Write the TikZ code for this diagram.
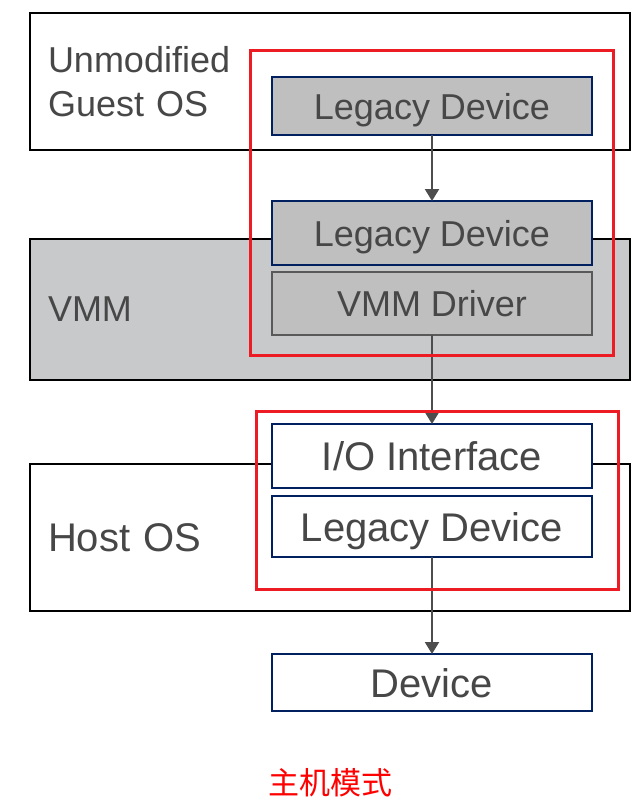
\documentclass[tikz,border=0pt]{standalone}
\usepackage{fontspec}
\setmainfont{Liberation Sans}
\newfontfamily\cjk{Noto Sans CJK SC}
\usepackage{tikz}
\usetikzlibrary{arrows.meta, positioning}

\definecolor{txtgray}{HTML}{474747}
\definecolor{devblue}{HTML}{002060}
\definecolor{devgray}{HTML}{BFBFBF}
\definecolor{vmmgray}{HTML}{C8C9CB}
\definecolor{drvline}{HTML}{595959}
\definecolor{flowgray}{HTML}{4D4D4D}
\definecolor{markred}{HTML}{ED1C24}

\begin{document}
\begin{tikzpicture} [
    x=1pt, y=-1pt,
    layer/.style={draw=black, line width=2.2pt, anchor=north west, minimum width=600pt,
      text width=564pt, inner xsep=18pt, inner ysep=0pt, outer sep=0pt, align=left,
      text=txtgray, font=\fontsize{36}{44}\selectfont},
    device/.style={draw=devblue, line width=2.2pt, fill=white, minimum width=320pt,
      inner sep=0pt, outer sep=0pt, text=txtgray,
      font=\fontsize{40}{44}\selectfont, text height=36pt, text depth=7pt},
    small device/.style={device, fill=devgray,
      font=\fontsize{36}{40}\selectfont, text height=32.5pt, text depth=6.5pt},
    flow/.style={draw=flowgray, line width=2.2pt, -{Triangle[width=14pt, length=12pt]}},
    mark box/.style={draw=markred, line width=3pt}
  ]

  \useasboundingbox (0,0) rectangle (643,807);

  % Layers
  \node (GUEST) [layer, minimum height=137pt] at (30,13) {Unmodified\\Guest OS};
  \node (VMM) [layer, fill=vmmgray, minimum height=141pt] at (30,239) {VMM};
  \node (HOST) [layer, minimum height=147pt, font=\fontsize{40}{44}\selectfont] at (30,464) {Host OS};

  % Devices, top to bottom
  \node (LEGACYG) [small device, minimum height=58pt] at (432,106) {Legacy Device};
  \node (LEGACYV) [small device, minimum height=64pt, below=66pt of LEGACYG] {Legacy Device};
  \node (DRIVER) [small device, draw=drvline, minimum height=63pt, below=7pt of LEGACYV] {VMM Driver};
  \node (IOIF) [device, minimum height=64pt, below=89pt of DRIVER] {I/O Interface};
  \node (LEGACYH) [device, minimum height=61pt, below=8pt of IOIF] {Legacy Device};
  \node (DEVICE) [device, minimum height=57pt, below=97pt of LEGACYH] {Device};

  % Caption
  \node (MODE) [text=red, font=\fontsize{31}{34}\cjk] at (330,783) {主机模式};

  % Edges
  \path (LEGACYG) edge[flow] (LEGACYV);
  \path (DRIVER) edge[flow] (IOIF);
  \path (LEGACYH) edge[flow] (DEVICE);

  % Red frames
  \draw[mark box] ([shift={(-22pt,27pt)}]LEGACYG.north west) rectangle ([shift={(21pt,-20pt)}]DRIVER.south east);
  \draw[mark box] ([shift={(-16pt,13pt)}]IOIF.north west) rectangle ([shift={(26pt,-32pt)}]LEGACYH.south east);

\end{tikzpicture}
\end{document}
